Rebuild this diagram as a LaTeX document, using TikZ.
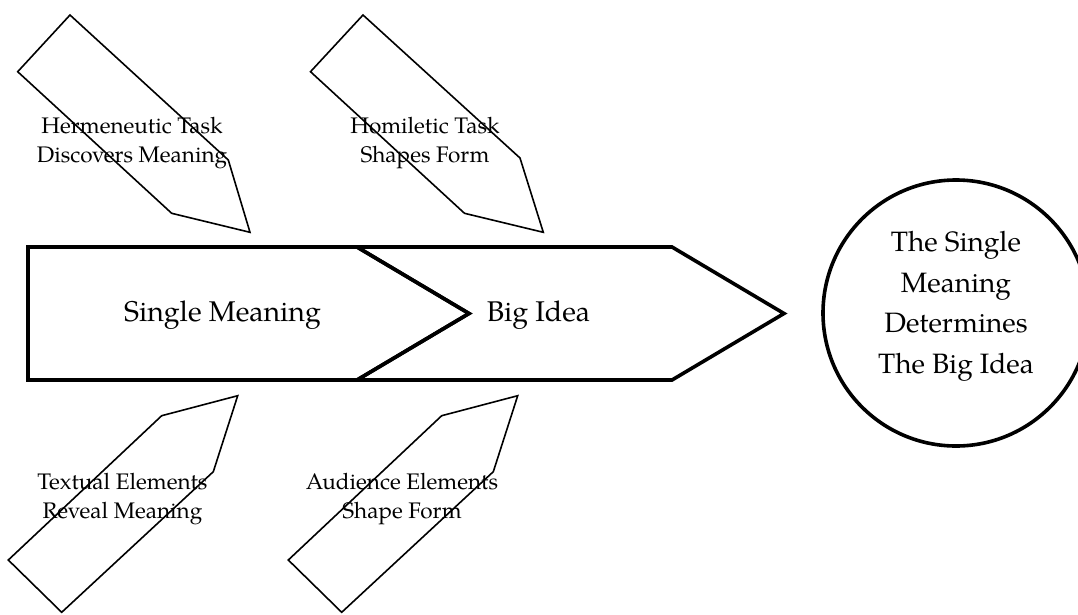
\documentclass[tikz,border=0pt]{standalone}
\usepackage{fontspec}
\setmainfont{TeX Gyre Pagella}
\tikzset{
  pointer/.style={draw=black, line width=1.6pt, line join=miter},
  chev/.style={draw=black, line width=3.6pt, line join=miter},
  lbl/.style={align=center, inner sep=0pt, font=\fontsize{22.5}{28.5}\selectfont},
  big/.style={inner sep=0pt, font=\fontsize{28.5}{34}\selectfont},
  circtext/.style={align=center, inner sep=0pt, font=\fontsize{28}{40.5}\selectfont}
}
\begin{document}
\begin{tikzpicture}[x=1pt,y=-1pt]
\useasboundingbox (0,0) rectangle (1078,614);
% top pointers
\draw[pointer] (70,15) -- (17.7,71.7) -- (171.7,213.3) -- (250,232.3) -- (228.3,160) -- cycle;
\draw[pointer] (363,15) -- (310.5,71.7) -- (464.5,213.3) -- (543.3,232.3) -- (520,158) -- cycle;
% bottom pointers
\draw[pointer] (237.7,395.7) -- (161.7,415.7) -- (8.3,560) -- (61.7,612.3) -- (213.3,471.7) -- cycle;
\draw[pointer] (517.7,395.7) -- (441.7,415.7) -- (288.3,560) -- (341.7,612.3) -- (493.3,471.7) -- cycle;
% chevrons
\draw[chev] (28,247) -- (357,247) -- (469,313.5) -- (357,380) -- (28,380) -- cycle;
\draw[chev] (357,247) -- (672,247) -- (784,313.5) -- (672,380) -- (357,380) -- (469,313.5) -- cycle;
% circle
\node[draw=black, line width=3.6pt, circle, minimum size=266pt, inner sep=0pt] (res) at (956,313) {};
% labels
\node[lbl] (herm) at (132,143) {Hermeneutic Task\\Discovers Meaning};
\node[lbl] (homi) at (425,143) {Homiletic Task\\Shapes Form};
\node[lbl] (text) at (122.5,499) {Textual Elements\\Reveal Meaning};
\node[lbl] (aud) at (402,499) {Audience Elements\\Shape Form};
\node[big, anchor=base] (single) at (222.5,321) {Single Meaning};
\node[big, anchor=base] (bigidea) at (538.5,321) {Big Idea};
\node[circtext] (restext) at (956,306.5) {The Single\\Meaning\\Determines\\The Big Idea};
\end{tikzpicture}
\end{document}
